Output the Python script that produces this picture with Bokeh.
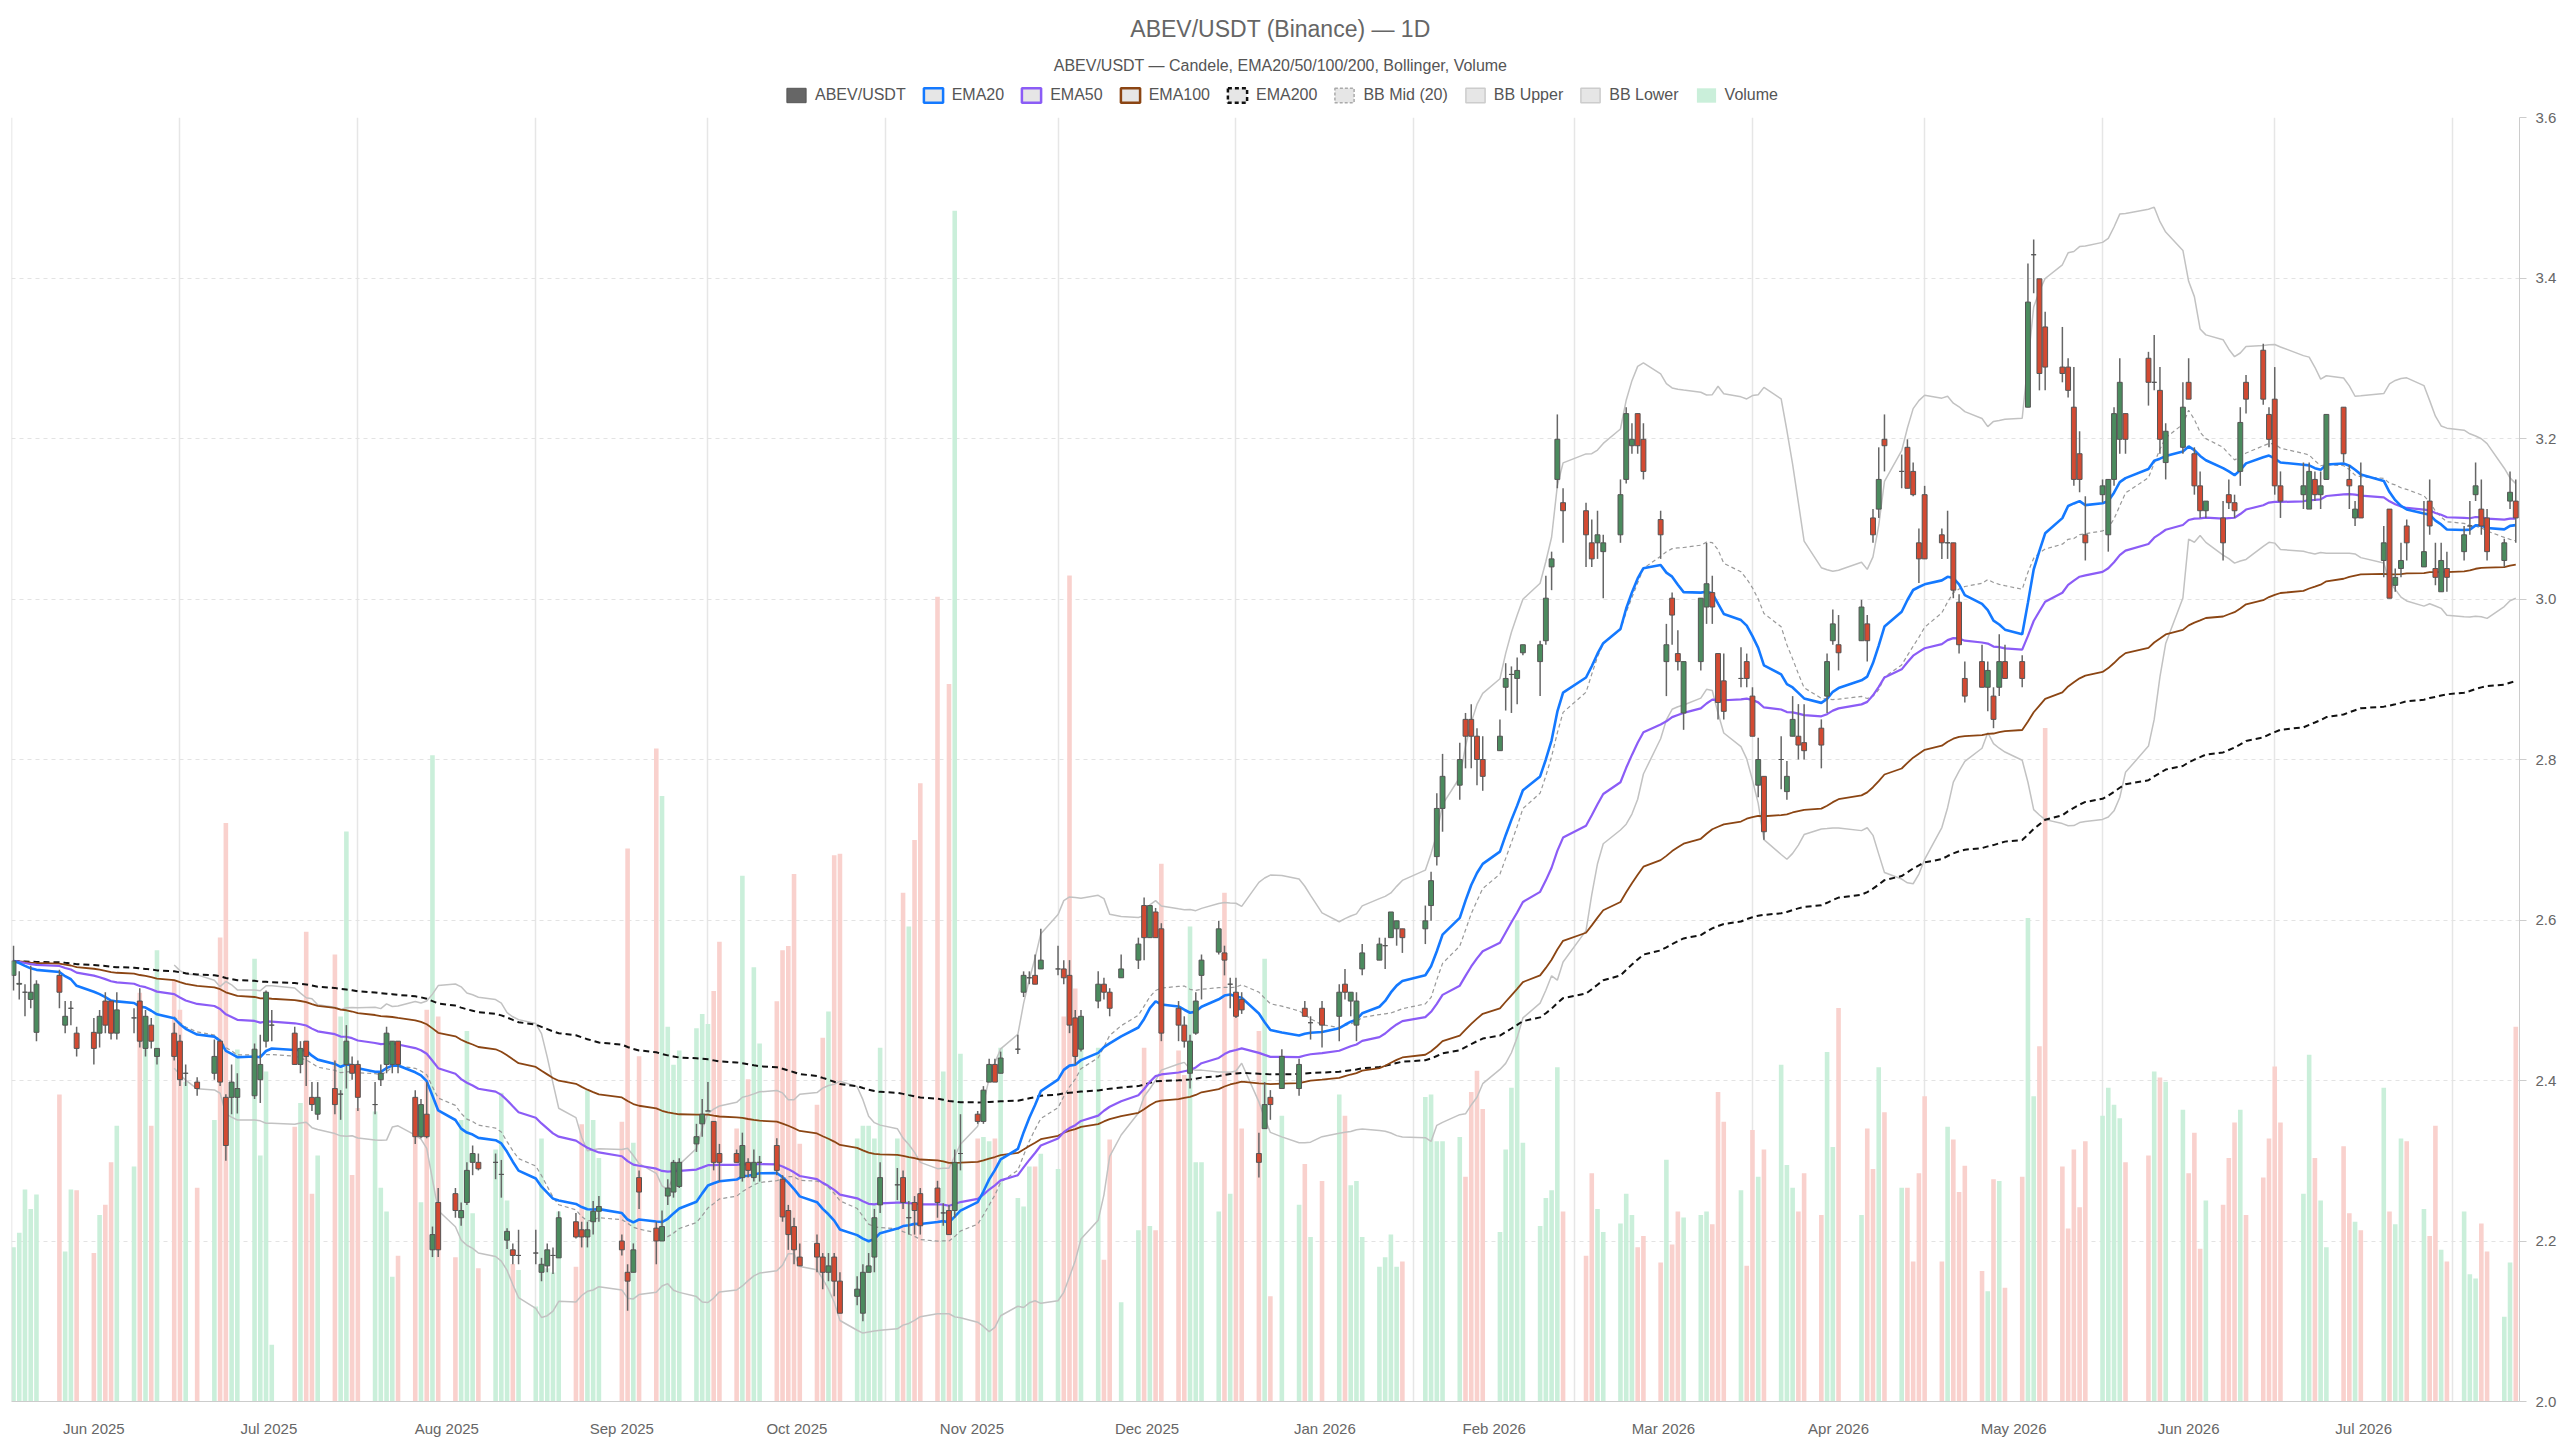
import numpy as np
import pandas as pd
from bokeh.plotting import figure
from bokeh.layouts import column
from bokeh.models import (ColumnDataSource, Range1d, FixedTicker, DatetimeTickFormatter,
                          NumeralTickFormatter, Legend, LegendItem, Span)
from bokeh.core.properties import value
from bokeh.embed import file_html
from bokeh.resources import INLINE

# ---------------- data ----------------
dates = [
    # 2025-06
    "2025-06-02", "2025-06-03", "2025-06-04", "2025-06-05", "2025-06-06",
    "2025-06-10", "2025-06-11", "2025-06-12", "2025-06-13",
    "2025-06-16", "2025-06-17", "2025-06-18", "2025-06-19", "2025-06-20",
    "2025-06-23", "2025-06-24", "2025-06-25", "2025-06-26", "2025-06-27", "2025-06-30",
    # 2025-07
    "2025-07-01", "2025-07-02", "2025-07-04",
    "2025-07-07", "2025-07-08", "2025-07-09", "2025-07-10", "2025-07-11",
    "2025-07-14", "2025-07-15", "2025-07-16", "2025-07-17",
    "2025-07-21", "2025-07-22", "2025-07-23", "2025-07-24", "2025-07-25",
    "2025-07-28", "2025-07-29", "2025-07-30", "2025-07-31",
    # 2025-08
    "2025-08-01", "2025-08-04", "2025-08-05", "2025-08-06", "2025-08-07", "2025-08-08",
    "2025-08-11", "2025-08-12", "2025-08-13", "2025-08-14", "2025-08-15",
    "2025-08-18", "2025-08-19", "2025-08-20", "2025-08-21", "2025-08-22",
    "2025-08-25", "2025-08-26", "2025-08-27", "2025-08-28", "2025-08-29",
    # 2025-09
    "2025-09-01", "2025-09-02", "2025-09-03", "2025-09-04", "2025-09-05",
    "2025-09-08", "2025-09-09", "2025-09-10", "2025-09-11", "2025-09-12",
    "2025-09-16", "2025-09-17", "2025-09-18", "2025-09-19",
    "2025-09-22", "2025-09-23", "2025-09-24", "2025-09-25", "2025-09-26",
    "2025-09-29", "2025-09-30",
    # 2025-10
    "2025-10-01", "2025-10-02", "2025-10-03",
    "2025-10-06", "2025-10-07", "2025-10-08", "2025-10-09", "2025-10-10",
    "2025-10-13", "2025-10-14", "2025-10-15", "2025-10-16", "2025-10-17",
    "2025-10-20", "2025-10-21", "2025-10-22", "2025-10-23", "2025-10-24",
    "2025-10-27", "2025-10-28", "2025-10-29", "2025-10-30", "2025-10-31",
    # 2025-11
    "2025-11-03", "2025-11-04", "2025-11-05", "2025-11-06", "2025-11-07",
    "2025-11-10", "2025-11-11", "2025-11-12", "2025-11-13", "2025-11-14",
    "2025-11-17", "2025-11-18", "2025-11-19", "2025-11-20", "2025-11-21",
    "2025-11-24", "2025-11-25", "2025-11-26", "2025-11-27", "2025-11-28",
    # 2025-12
    "2025-12-01", "2025-12-02", "2025-12-03", "2025-12-04", "2025-12-05",
    "2025-12-08", "2025-12-09", "2025-12-10", "2025-12-12",
    "2025-12-15", "2025-12-16", "2025-12-17", "2025-12-18", "2025-12-19",
    "2025-12-22", "2025-12-23", "2025-12-24", "2025-12-25", "2025-12-26",
    "2025-12-29", "2025-12-30", "2025-12-31",
    # 2026-01
    "2026-01-01", "2026-01-02",
    "2026-01-05", "2026-01-06", "2026-01-07", "2026-01-09",
    "2026-01-12", "2026-01-13", "2026-01-14", "2026-01-16",
    "2026-01-19", "2026-01-20", "2026-01-21", "2026-01-22", "2026-01-23",
    "2026-01-26", "2026-01-27", "2026-01-28", "2026-01-29", "2026-01-30",
    # 2026-02
    "2026-02-03", "2026-02-04", "2026-02-05", "2026-02-06",
    "2026-02-09", "2026-02-10", "2026-02-11", "2026-02-12", "2026-02-13",
    "2026-02-16", "2026-02-17", "2026-02-18", "2026-02-19", "2026-02-20",
    "2026-02-23", "2026-02-24", "2026-02-25", "2026-02-26", "2026-02-27",
    # 2026-03
    "2026-03-03", "2026-03-04", "2026-03-05", "2026-03-06",
    "2026-03-09", "2026-03-10", "2026-03-11", "2026-03-12", "2026-03-13",
    "2026-03-16", "2026-03-17", "2026-03-18", "2026-03-19", "2026-03-20",
    "2026-03-23", "2026-03-24", "2026-03-25", "2026-03-26", "2026-03-27",
    "2026-03-30", "2026-03-31",
    # 2026-04
    "2026-04-01", "2026-04-02", "2026-04-03",
    "2026-04-06", "2026-04-07", "2026-04-08", "2026-04-09", "2026-04-10",
    "2026-04-13", "2026-04-14", "2026-04-15", "2026-04-16",
    "2026-04-20", "2026-04-21", "2026-04-22", "2026-04-23", "2026-04-24",
    "2026-04-27", "2026-04-28", "2026-04-29", "2026-04-30",
    # 2026-05
    "2026-05-01",
    "2026-05-04", "2026-05-05", "2026-05-06", "2026-05-07", "2026-05-08",
    "2026-05-11", "2026-05-12", "2026-05-13", "2026-05-14", "2026-05-15",
    "2026-05-18", "2026-05-19", "2026-05-20", "2026-05-21", "2026-05-22",
    "2026-05-25", "2026-05-26", "2026-05-27", "2026-05-28", "2026-05-29",
    # 2026-06
    "2026-06-01", "2026-06-02", "2026-06-03", "2026-06-04", "2026-06-05",
    "2026-06-09", "2026-06-10", "2026-06-11", "2026-06-12",
    "2026-06-15", "2026-06-16", "2026-06-17", "2026-06-18", "2026-06-19",
    "2026-06-22", "2026-06-23", "2026-06-24", "2026-06-25", "2026-06-26",
    "2026-06-29", "2026-06-30",
    # 2026-07
    "2026-07-01", "2026-07-02",
    "2026-07-06", "2026-07-07", "2026-07-08", "2026-07-09", "2026-07-10",
    "2026-07-13", "2026-07-14", "2026-07-15", "2026-07-16",
    "2026-07-20", "2026-07-21", "2026-07-22", "2026-07-23", "2026-07-24",
    "2026-07-27", "2026-07-28", "2026-07-29", "2026-07-30", "2026-07-31",
    # 2026-08
    "2026-08-03", "2026-08-04", "2026-08-05", "2026-08-06", "2026-08-07",
    "2026-08-10", "2026-08-11", "2026-08-12",
]

opens = [
    2.531, 2.520, 2.510, 2.501, 2.460, 2.531, 2.469, 2.490, 2.459, 2.460,
    2.459, 2.499, 2.499, 2.459, 2.478, 2.499, 2.440, 2.469, 2.430, 2.459,
    2.449, 2.409, 2.398, 2.409, 2.449, 2.379, 2.379, 2.379, 2.381, 2.401,
    2.449, 2.469, 2.459, 2.420, 2.449, 2.379, 2.358, 2.390, 2.383, 2.420, 2.420,
    2.420, 2.370, 2.401, 2.420, 2.420, 2.449, 2.379, 2.330, 2.358, 2.189, 2.248,
    2.259, 2.229, 2.248, 2.298, 2.298, 2.298, 2.283, 2.201, 2.189, 2.182,
    2.185, 2.161, 2.169, 2.182, 2.179, 2.224, 2.214, 2.205, 2.224, 2.237,
    2.200, 2.161, 2.161, 2.279, 2.216, 2.200, 2.256, 2.261, 2.268, 2.321, 2.346,
    2.362, 2.349, 2.309, 2.309, 2.279, 2.298, 2.279, 2.298, 2.319, 2.277, 2.238,
    2.218, 2.180, 2.197, 2.180, 2.161, 2.180, 2.150, 2.131, 2.110, 2.161, 2.180, 2.245,
    2.270, 2.279, 2.229, 2.248, 2.259, 2.266, 2.235, 2.238, 2.238, 2.309,
    2.358, 2.349, 2.398, 2.420, 2.409, 2.439, 2.510, 2.528, 2.531, 2.539,
    2.539, 2.539, 2.531, 2.478, 2.439, 2.499, 2.520, 2.510, 2.528, 2.550, 2.618,
    2.578, 2.610, 2.589, 2.490, 2.469, 2.409, 2.459, 2.531, 2.560, 2.559, 2.520,
    2.510, 2.501, 2.309, 2.340, 2.379, 2.390, 2.390, 2.490, 2.472, 2.490,
    2.480, 2.520, 2.499, 2.469, 2.539, 2.550, 2.568, 2.578, 2.589, 2.589,
    2.589, 2.618, 2.679, 2.739, 2.768, 2.850, 2.850, 2.829, 2.800, 2.811,
    2.890, 2.906, 2.901, 2.933, 2.922, 2.948, 3.040, 3.149, 3.120,
    3.110, 3.070, 3.070, 3.059, 3.080, 3.149, 3.191, 3.231, 3.199, 3.099, 2.922,
    3.001, 2.932, 2.858, 2.922, 2.990, 3.008, 2.932, 2.898, 2.901, 2.922,
    2.879, 2.768, 2.779, 2.800, 2.760, 2.829, 2.829, 2.821, 2.839, 2.879, 2.948,
    2.943, 2.948, 2.969, 3.101, 3.112, 3.199, 3.159, 3.189, 3.159, 3.070,
    3.130, 3.080, 3.070, 3.070, 2.996, 2.901, 2.922, 2.890, 2.879, 2.890, 2.922,
    2.922, 3.239, 3.429, 3.399, 3.339, 3.289, 3.289, 3.239, 3.181, 3.080,
    3.130, 3.080, 3.149, 3.199, 3.231, 3.300, 3.270, 3.260, 3.170, 3.189, 3.270,
    3.181, 3.141, 3.110, 3.101, 3.130, 3.120, 3.159, 3.270, 3.310, 3.230,
    3.249, 3.141, 3.130, 3.112, 3.149, 3.130, 3.149, 3.239, 3.149, 3.101, 3.141,
    3.048, 3.112, 3.017, 3.038, 3.091, 3.040, 3.122, 3.038, 3.009, 3.038,
    3.059, 3.091, 3.130, 3.112, 3.101, 3.048, 3.122, 3.122,
]

highs = [
    2.568, 2.536, 2.520, 2.543, 2.525, 2.538, 2.499, 2.499, 2.467, 2.478,
    2.488, 2.510, 2.499, 2.510, 2.490, 2.515, 2.488, 2.478, 2.440, 2.472,
    2.457, 2.420, 2.404, 2.451, 2.451, 2.383, 2.420, 2.409, 2.446, 2.457,
    2.512, 2.488, 2.467, 2.449, 2.449, 2.398, 2.398, 2.425, 2.388, 2.469, 2.430,
    2.425, 2.398, 2.420, 2.467, 2.449, 2.449, 2.388, 2.377, 2.398, 2.218, 2.266,
    2.266, 2.248, 2.298, 2.319, 2.309, 2.309, 2.301, 2.216, 2.197, 2.214,
    2.214, 2.179, 2.197, 2.192, 2.237, 2.235, 2.224, 2.224, 2.250, 2.256,
    2.208, 2.171, 2.197, 2.288, 2.224, 2.238, 2.277, 2.301, 2.303, 2.346, 2.377,
    2.398, 2.349, 2.321, 2.314, 2.335, 2.303, 2.314, 2.306, 2.328, 2.282, 2.245,
    2.229, 2.197, 2.208, 2.185, 2.185, 2.185, 2.161, 2.156, 2.171, 2.185, 2.240, 2.298,
    2.291, 2.288, 2.250, 2.256, 2.266, 2.275, 2.247, 2.245, 2.314, 2.358,
    2.362, 2.393, 2.427, 2.427, 2.436, 2.457, 2.536, 2.536, 2.557, 2.589,
    2.568, 2.550, 2.550, 2.488, 2.488, 2.536, 2.528, 2.515, 2.557, 2.578, 2.628,
    2.618, 2.615, 2.596, 2.499, 2.480, 2.457, 2.510, 2.557, 2.599, 2.568, 2.528,
    2.528, 2.510, 2.335, 2.398, 2.388, 2.439, 2.427, 2.499, 2.480, 2.499,
    2.520, 2.539, 2.510, 2.510, 2.570, 2.578, 2.578, 2.610, 2.599, 2.589,
    2.618, 2.660, 2.758, 2.807, 2.821, 2.858, 2.869, 2.839, 2.829, 2.850,
    2.920, 2.916, 2.927, 2.943, 2.948, 3.029, 3.059, 3.230, 3.138,
    3.120, 3.099, 3.110, 3.080, 3.149, 3.239, 3.219, 3.231, 3.219, 3.110, 2.969,
    3.008, 2.961, 2.922, 3.001, 3.070, 3.029, 2.932, 2.932, 2.940, 2.932,
    2.890, 2.827, 2.779, 2.829, 2.798, 2.879, 2.869, 2.869, 2.850, 2.932, 2.987,
    2.980, 2.999, 2.980, 3.112, 3.189, 3.230, 3.180, 3.199, 3.170, 3.088,
    3.141, 3.088, 3.110, 3.070, 3.006, 2.922, 2.943, 2.922, 2.890, 2.956, 2.943,
    2.930, 3.418, 3.448, 3.399, 3.358, 3.339, 3.300, 3.289, 3.209, 3.128,
    3.149, 3.149, 3.239, 3.300, 3.231, 3.308, 3.329, 3.289, 3.219, 3.270, 3.300,
    3.189, 3.159, 3.122, 3.122, 3.149, 3.130, 3.239, 3.279, 3.318, 3.239,
    3.289, 3.159, 3.170, 3.170, 3.159, 3.159, 3.230, 3.239, 3.167, 3.122, 3.170,
    3.091, 3.112, 3.038, 3.070, 3.099, 3.122, 3.149, 3.070, 3.070, 3.059,
    3.091, 3.122, 3.170, 3.149, 3.112, 3.075, 3.159, 3.149,
]

lows = [
    2.512, 2.501, 2.480, 2.490, 2.449, 2.490, 2.459, 2.469, 2.430, 2.420,
    2.441, 2.459, 2.451, 2.451, 2.459, 2.441, 2.430, 2.440, 2.420, 2.425,
    2.393, 2.393, 2.381, 2.401, 2.393, 2.300, 2.358, 2.359, 2.377, 2.372,
    2.441, 2.449, 2.420, 2.409, 2.393, 2.362, 2.351, 2.358, 2.351, 2.390, 2.401,
    2.362, 2.358, 2.393, 2.409, 2.409, 2.409, 2.321, 2.328, 2.328, 2.180, 2.180,
    2.229, 2.219, 2.245, 2.282, 2.288, 2.277, 2.254, 2.190, 2.171, 2.171,
    2.171, 2.150, 2.161, 2.159, 2.179, 2.203, 2.192, 2.192, 2.208, 2.224,
    2.182, 2.113, 2.161, 2.240, 2.171, 2.200, 2.245, 2.254, 2.266, 2.311, 2.330,
    2.362, 2.288, 2.274, 2.298, 2.274, 2.279, 2.274, 2.274, 2.282, 2.224, 2.189,
    2.171, 2.169, 2.161, 2.140, 2.150, 2.131, 2.110, 2.120, 2.100, 2.161, 2.161, 2.235,
    2.251, 2.240, 2.208, 2.208, 2.208, 2.229, 2.219, 2.208, 2.229, 2.288,
    2.346, 2.346, 2.398, 2.398, 2.409, 2.433, 2.504, 2.520, 2.520, 2.539,
    2.531, 2.520, 2.459, 2.420, 2.436, 2.490, 2.501, 2.480, 2.528, 2.539, 2.550,
    2.578, 2.578, 2.449, 2.449, 2.441, 2.390, 2.457, 2.501, 2.557, 2.531, 2.490,
    2.478, 2.483, 2.279, 2.340, 2.351, 2.390, 2.381, 2.480, 2.451, 2.441,
    2.449, 2.501, 2.480, 2.449, 2.531, 2.550, 2.539, 2.578, 2.568, 2.559,
    2.570, 2.599, 2.668, 2.710, 2.750, 2.789, 2.789, 2.768, 2.761, 2.811,
    2.861, 2.858, 2.869, 2.930, 2.879, 2.943, 3.011, 3.138, 3.070,
    3.040, 3.040, 3.050, 3.001, 3.070, 3.144, 3.181, 3.181, 3.149, 3.050, 2.879,
    2.943, 2.911, 2.837, 2.911, 2.969, 2.969, 2.850, 2.850, 2.890, 2.890,
    2.829, 2.753, 2.700, 2.763, 2.750, 2.829, 2.800, 2.800, 2.789, 2.858, 2.943,
    2.911, 2.948, 2.922, 3.070, 3.101, 3.159, 3.138, 3.138, 3.128, 3.020,
    3.050, 3.050, 3.050, 3.001, 2.932, 2.871, 2.890, 2.860, 2.839, 2.879, 2.901,
    2.890, 3.239, 3.381, 3.260, 3.260, 3.270, 3.251, 3.141, 3.133, 3.048,
    3.120, 3.059, 3.141, 3.181, 3.181, 3.241, 3.260, 3.181, 3.149, 3.181, 3.249,
    3.130, 3.101, 3.101, 3.048, 3.112, 3.101, 3.141, 3.231, 3.242, 3.189,
    3.130, 3.101, 3.112, 3.112, 3.122, 3.112, 3.149, 3.170, 3.112, 3.091, 3.101,
    3.027, 3.001, 3.009, 3.027, 3.048, 3.040, 3.080, 3.017, 3.009, 3.009,
    3.048, 3.080, 3.122, 3.080, 3.048, 3.040, 3.112, 3.070,
]

closes = [
    2.549, 2.521, 2.510, 2.510, 2.520, 2.510, 2.480, 2.490, 2.440, 2.440,
    2.480, 2.469, 2.459, 2.488, 2.478, 2.449, 2.480, 2.449, 2.440, 2.430,
    2.401, 2.409, 2.390, 2.430, 2.398, 2.319, 2.398, 2.390, 2.439, 2.420,
    2.510, 2.469, 2.420, 2.440, 2.430, 2.370, 2.379, 2.370, 2.383, 2.449, 2.409,
    2.379, 2.370, 2.409, 2.459, 2.449, 2.420, 2.330, 2.370, 2.330, 2.208, 2.189,
    2.238, 2.238, 2.288, 2.309, 2.290, 2.298, 2.283, 2.212, 2.182, 2.182,
    2.185, 2.171, 2.189, 2.182, 2.229, 2.205, 2.205, 2.214, 2.237, 2.243,
    2.189, 2.150, 2.189, 2.261, 2.200, 2.218, 2.266, 2.298, 2.298, 2.330, 2.358,
    2.362, 2.298, 2.298, 2.298, 2.319, 2.288, 2.298, 2.298, 2.288, 2.230, 2.208,
    2.189, 2.169, 2.180, 2.161, 2.169, 2.150, 2.110, 2.140, 2.161, 2.169, 2.229, 2.279,
    2.270, 2.248, 2.229, 2.238, 2.219, 2.248, 2.235, 2.208, 2.298, 2.309,
    2.349, 2.388, 2.420, 2.398, 2.428, 2.439, 2.531, 2.528, 2.520, 2.550,
    2.539, 2.528, 2.469, 2.430, 2.480, 2.520, 2.510, 2.490, 2.539, 2.570, 2.578,
    2.618, 2.578, 2.459, 2.469, 2.449, 2.449, 2.499, 2.550, 2.589, 2.550, 2.520,
    2.480, 2.488, 2.298, 2.370, 2.370, 2.430, 2.420, 2.480, 2.472, 2.469,
    2.510, 2.510, 2.510, 2.499, 2.559, 2.570, 2.568, 2.610, 2.599, 2.578,
    2.599, 2.649, 2.739, 2.779, 2.800, 2.829, 2.829, 2.800, 2.779, 2.829,
    2.901, 2.906, 2.911, 2.943, 2.943, 3.001, 3.050, 3.199, 3.110,
    3.080, 3.050, 3.080, 3.070, 3.130, 3.231, 3.199, 3.191, 3.159, 3.080, 2.943,
    2.980, 2.922, 2.922, 3.001, 3.019, 2.990, 2.871, 2.860, 2.901, 2.901,
    2.829, 2.800, 2.710, 2.800, 2.779, 2.850, 2.818, 2.811, 2.818, 2.922, 2.969,
    2.933, 2.990, 2.948, 3.080, 3.149, 3.191, 3.159, 3.138, 3.130, 3.050,
    3.050, 3.070, 3.070, 3.011, 2.943, 2.879, 2.890, 2.911, 2.850, 2.922, 2.901,
    2.901, 3.370, 3.429, 3.281, 3.289, 3.281, 3.260, 3.149, 3.149, 3.070,
    3.141, 3.149, 3.231, 3.270, 3.199, 3.270, 3.270, 3.199, 3.209, 3.239, 3.249,
    3.141, 3.110, 3.122, 3.070, 3.120, 3.110, 3.220, 3.249, 3.249, 3.199,
    3.141, 3.122, 3.141, 3.159, 3.130, 3.141, 3.230, 3.181, 3.141, 3.112, 3.101,
    3.070, 3.001, 3.027, 3.048, 3.070, 3.059, 3.091, 3.027, 3.048, 3.027,
    3.080, 3.091, 3.141, 3.091, 3.059, 3.070, 3.133, 3.101,
]

volumes = [  # thousands
    182, 199, 250, 227, 244, 362, 177, 250, 249, 175,
    220, 232, 282, 325, 277, 482, 437, 325, 532, 497,
    462, 377, 252, 332, 547, 682, 372, 415, 522, 290,
    389, 67, 324, 352, 554, 245, 290, 527, 454, 672, 267,
    346, 342, 252, 224, 147, 172, 327, 235, 462, 762, 454,
    170, 332, 437, 222, 157, 297, 364, 237, 162, 155,
    112, 310, 157, 152, 224, 159, 327, 367, 332, 287,
    330, 652, 305, 407, 770, 714, 442, 397, 414, 440, 457,
    445, 484, 542, 322, 620, 380, 512, 422, 472, 532, 537,
    622, 304, 350, 429, 460, 644, 646, 310, 325, 325, 310, 417,
    310, 600, 560, 662, 729, 949, 389, 846, 1404, 410,
    310, 312, 307, 310, 417, 240, 230, 277, 277, 292,
    274, 454, 974, 487, 432, 417, 167, 309, 117, 202, 417,
    207, 202, 634, 414, 385, 560, 282, 282, 224, 600, 245,
    474, 322, 437, 522, 124, 337, 232, 280, 194, 260,
    362, 337, 255, 260, 194, 159, 170, 197, 159, 165,
    359, 362, 307, 307, 312, 265, 365, 390, 345, 200,
    297, 370, 567, 305, 207, 240, 249, 394, 224,
    172, 269, 227, 200, 210, 245, 220, 182, 195, 164, 285,
    185, 224, 217, 220, 224, 209, 365, 330, 249, 160,
    320, 265, 297, 397, 279, 252, 224, 269, 220, 412, 300,
    464, 220, 322, 274, 394, 341, 252, 252, 165, 269,
    360, 165, 324, 309, 247, 278, 154, 130, 262, 260, 134,
    265, 570, 360, 419, 794, 277, 204, 297, 229, 307,
    337, 370, 350, 334, 282, 290, 389, 382, 377, 344, 269,
    317, 180, 237, 232, 287, 329, 344, 220, 264, 310,
    395, 329, 245, 409, 287, 237, 182, 301, 222, 212, 202,
    370, 224, 209, 310, 307, 227, 195, 325, 179, 165,
    224, 150, 145, 210, 177, 100, 164, 442,
]

month_starts = ["2025-06-01", "2025-07-01", "2025-08-01", "2025-09-01", "2025-10-01",
                "2025-11-01", "2025-12-01", "2026-01-01", "2026-02-01", "2026-03-01",
                "2026-04-01", "2026-05-01", "2026-06-01", "2026-07-01", "2026-08-01",
                "2026-09-01"]
price_ticks = [2.0, 2.2, 2.4, 2.6, 2.8, 3.0, 3.2, 3.4, 3.6]

title_text = "ABEV/USDT (Binance) — 1D"
subtitle_text = "ABEV/USDT — Candele, EMA20/50/100/200, Bollinger, Volume"

# ---------------- indicators ----------------
df = pd.DataFrame({"date": pd.to_datetime(dates), "open": opens, "high": highs,
                   "low": lows, "close": closes, "vol": volumes})
c = df["close"]
for n in (20, 50, 100, 200):
    df[f"ema{n}"] = c.ewm(span=n, adjust=False).mean()
df["bb_mid"] = c.rolling(20).mean()
sd = c.rolling(20).std(ddof=0)
df["bb_up"] = df["bb_mid"] + 2 * sd
df["bb_lo"] = df["bb_mid"] - 2 * sd

GREEN, RED = "#4b8b5e", "#d34a32"
VGREEN, VRED = "#caefda", "#f9d1cd"
up = df["close"] >= df["open"]
df["top"] = df[["open", "close"]].max(axis=1)
df["bot"] = df[["open", "close"]].min(axis=1)
df["col"] = np.where(up, GREEN, RED)
df["vcol"] = np.where(up, VGREEN, VRED)
src = ColumnDataSource(df)

DAY = 86400000.0
def ms(s):
    return (pd.Timestamp(s) - pd.Timestamp("1970-01-01")) / pd.Timedelta(milliseconds=1)

x_start = ms(df["date"].iloc[0]) - 0.35 * DAY
x_end = ms(df["date"].iloc[-1]) + 0.65 * DAY

FONT = "Liberation Sans"
TXT = "#666666"
W = 2560
HEAD_H = 107
BL, BR = 11, 41   # borders of the chart frame (the header frame is aligned to them)

# ---------------- header (title, subtitle, legend) ----------------
# x range is chosen so that header data units equal page pixels
hdr = figure(width=W, height=HEAD_H, x_range=Range1d(BL, W - BR), y_range=Range1d(HEAD_H, 0),
             output_backend="svg", toolbar_location=None,
             min_border=0, min_border_left=BL, min_border_right=BR,
             min_border_top=0, min_border_bottom=0,
             x_axis_location=None, y_axis_location=None)
hdr.grid.visible = False
hdr.outline_line_color = None
hdr.text(x=[W / 2], y=[28], text=[title_text], text_align="center", text_baseline="middle",
         text_font=value(FONT), text_font_size="23px", text_color="#666666")
hdr.text(x=[W / 2], y=[65], text=[subtitle_text], text_align="center", text_baseline="middle",
         text_font=value(FONT), text_font_size="16px", text_color="#555555")

dummy = ColumnDataSource(dict(x=[np.nan], y=[np.nan]))
def sw(**kw):
    return hdr.rect("x", "y", width=1, height=1, source=dummy, **kw)

LF = "#e6e6e6"
items = [
    ("ABEV/USDT", sw(fill_color="#666666", line_color="#555555", line_width=1)),
    ("EMA20", sw(fill_color=LF, line_color="#1479ff", line_width=2.5)),
    ("EMA50", sw(fill_color=LF, line_color="#8b5cf6", line_width=2.5)),
    ("EMA100", sw(fill_color=LF, line_color="#8b4513", line_width=2.5)),
    ("EMA200", sw(fill_color=LF, line_color="#111111", line_width=2.5, line_dash="4 3")),
    ("BB Mid (20)", sw(fill_color=LF, line_color="#aaaaaa", line_width=1.5, line_dash="3 2")),
    ("BB Upper", sw(fill_color=LF, line_color="#cccccc", line_width=1.5)),
    ("BB Lower", sw(fill_color=LF, line_color="#cccccc", line_width=1.5)),
    ("Volume", sw(fill_color=VGREEN, line_color=None)),
]
legend = Legend(items=[LegendItem(label=l, renderers=[r]) for l, r in items],
                orientation="horizontal", location=(784 - BL, 3),
                glyph_width=24, glyph_height=18, label_height=18,
                label_standoff=7, spacing=15, padding=3, margin=0,
                label_text_font=FONT, label_text_font_size="16px", label_text_color="#555555",
                border_line_color=None, background_fill_alpha=0)
hdr.add_layout(legend)

# ---------------- main chart ----------------
p = figure(width=W, height=1440 - HEAD_H, x_axis_type="datetime", y_axis_location="right",
           x_range=Range1d(x_start, x_end), y_range=Range1d(2.0, 3.6),
           output_backend="svg", toolbar_location=None,
           min_border_left=BL, min_border_right=BR, min_border_bottom=39, min_border_top=10)
p.outline_line_color = None
p.extra_y_ranges = {"vol": Range1d(0, 1514)}

p.xgrid.ticker = FixedTicker(ticks=[ms(m) for m in month_starts])
p.xgrid.grid_line_color = "#e6e6e6"
p.xgrid.grid_line_width = 1.5
p.ygrid.grid_line_color = "#e3e3e3"
p.ygrid.grid_line_dash = "4 4"
p.ygrid.grid_line_width = 1

p.add_layout(Span(location=x_start, dimension="height", line_color="#dddddd", line_width=1.5))

mids = [(ms(a) + ms(b)) / 2 for a, b in zip(month_starts[:-1], month_starts[1:])]
p.xaxis.ticker = FixedTicker(ticks=mids)
fmt = "%b %Y"
p.xaxis.formatter = DatetimeTickFormatter(days=fmt, months=fmt, years=fmt, hours=fmt,
                                          hourmin=fmt, minutes=fmt, minsec=fmt,
                                          seconds=fmt, milliseconds=fmt, microseconds=fmt)
p.xaxis.major_tick_line_color = None
p.xaxis.minor_tick_line_color = None
p.xaxis.axis_line_color = "#cccccc"
p.xaxis.major_label_text_font = FONT
p.xaxis.major_label_text_font_size = "15px"
p.xaxis.major_label_text_color = TXT
p.xaxis.major_label_standoff = 12

p.yaxis.ticker = FixedTicker(ticks=price_ticks)
p.yaxis.formatter = NumeralTickFormatter(format="0.0")
p.yaxis.axis_line_color = "#cccccc"
p.yaxis.major_tick_line_color = "#cccccc"
p.yaxis.major_tick_out = 7
p.yaxis.major_tick_in = 0
p.yaxis.minor_tick_line_color = None
p.yaxis.major_label_text_font = FONT
p.yaxis.major_label_text_font_size = "15px"
p.yaxis.major_label_text_color = TXT
p.yaxis.major_label_standoff = 9

# volume
p.vbar(x="date", top="vol", bottom=0, width=0.8 * DAY, source=src, y_range_name="vol",
       fill_color="vcol", line_color=None)

# bollinger
p.line("date", "bb_up", source=src, line_color="#c2c2c2", line_width=1.5)
p.line("date", "bb_lo", source=src, line_color="#c2c2c2", line_width=1.5)
p.line("date", "bb_mid", source=src, line_color="#999999", line_width=1.2, line_dash="4 3")

# EMAs
p.line("date", "ema200", source=src, line_color="#111111", line_width=2, line_dash="6 4")
p.line("date", "ema100", source=src, line_color="#8b4513", line_width=1.8)
p.line("date", "ema50", source=src, line_color="#8b5cf6", line_width=2.2)
p.line("date", "ema20", source=src, line_color="#1479ff", line_width=2.6)

# candles
p.segment(x0="date", y0="high", x1="date", y1="low", source=src, line_color="#666666", line_width=1.5)
p.vbar(x="date", top="top", bottom="bot", width=0.85 * DAY, source=src,
       fill_color="col", line_color="#555555", line_width=1)

layout = column(hdr, p, spacing=0)
open("out.html", "w").write(file_html(layout, INLINE))
